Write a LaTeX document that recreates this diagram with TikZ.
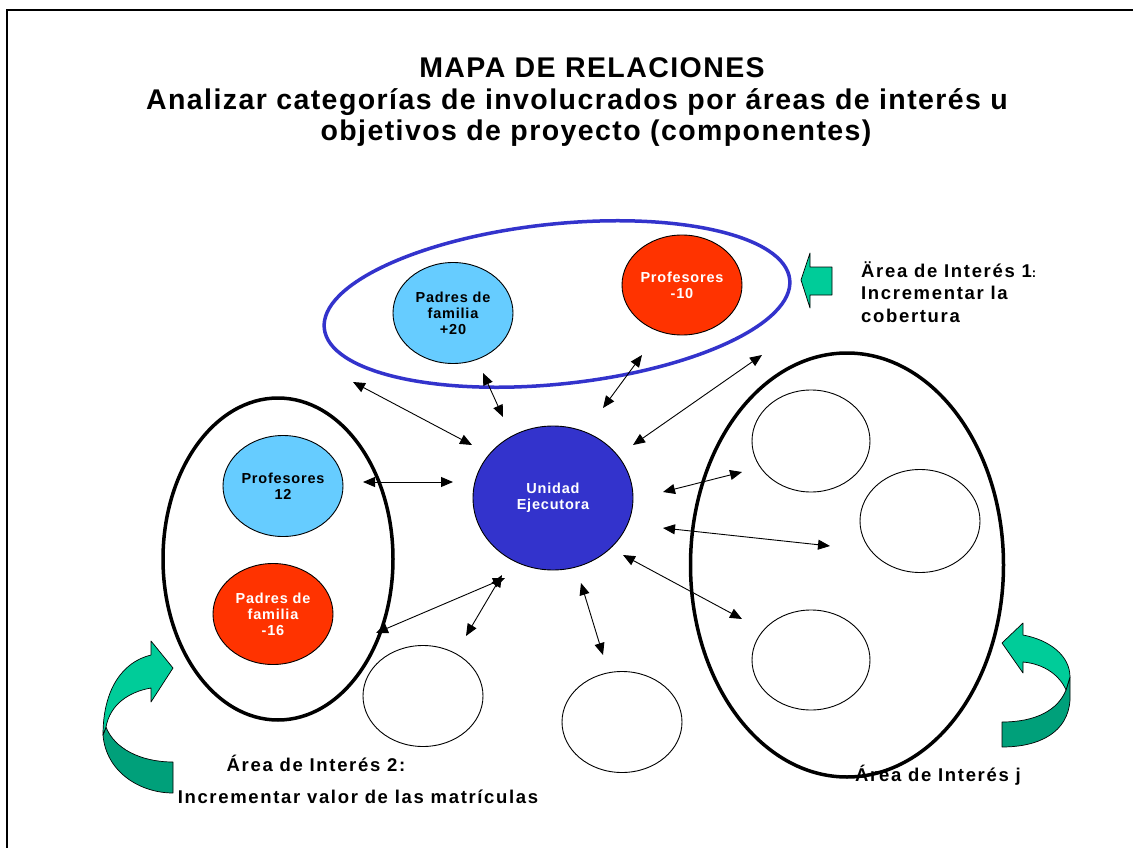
\documentclass[tikz,border=0pt]{standalone}
\usepackage{fontspec}
\setmainfont{Liberation Sans}
\usetikzlibrary{shapes.geometric,arrows.meta}
\definecolor{lblue}{HTML}{66CCFF}
\definecolor{hred}{HTML}{FF3300}
\definecolor{dblue}{HTML}{3333CC}
\definecolor{lgreen}{HTML}{00CC99}
\definecolor{dgreen}{HTML}{00A07A}
\tikzset{
  bub/.style={ellipse, draw=black, line width=0.9pt, inner sep=0pt, minimum width=120pt, minimum height=101pt, align=center, font=\bfseries\fontsize{14.5}{16}\selectfont\addfontfeature{LetterSpace=5.5}},
  big/.style={ellipse, draw=black, line width=3.5pt, inner sep=0pt},
  dbl/.style={{Triangle[length=12pt,width=10pt]}-{Triangle[length=12pt,width=10pt]}, line width=0.9pt},
  lbl/.style={font=\bfseries\fontsize{18.5}{22.5}\selectfont\addfontfeature{LetterSpace=9}, inner sep=0pt},
  ttl/.style={font=\bfseries\fontsize{28.5}{34}\selectfont\addfontfeature{LetterSpace=5}, inner sep=0pt},
  ribbon/.style={draw=black, line width=0.7pt, line join=round}
}
\begin{document}
\begin{tikzpicture}[x=1pt,y=-1pt]
\useasboundingbox (0,0) rectangle (1133,848);
\fill[white] (0,0) rectangle (1133,848);
% frame
\draw[line width=2.5pt] (7,848) -- (7,10) -- (1133,10);
% title
\node[ttl] (t1) at (592,68) {MAPA DE RELACIONES};
\node[ttl] (t2) at (577,102) {Analizar categorías de involucrados por áreas de interés u};
\node[ttl] (t3) at (596,133) {objetivos de proyecto (componentes)};
% big outline ellipses
\node[ellipse, draw=dblue, line width=3.5pt, minimum width=468pt, minimum height=160pt, rotate=6, inner sep=0pt] (area1) at (557,304) {};
\node[big, minimum width=230pt, minimum height=322pt] (area2) at (278,559) {};
\node[big, minimum width=313pt, minimum height=424pt] (areaj) at (847,565) {};
% bubbles
\node[bub, fill=lblue, text=black] (pf20) at (453,313) {Padres de\\familia\\+20};
\node[bub, fill=hred, text=white, minimum height=100pt] (pr10) at (682,285) {Profesores\\-10};
\node[bub, fill=lblue, text=black, minimum height=101pt] (pr12) at (283,486) {Profesores\\12};
\node[bub, fill=hred, text=white] (pf16) at (273,614) {Padres de\\familia\\-16};
\node[bub, fill=dblue, text=white, minimum width=160pt, minimum height=144pt] (ue) at (553,498) {Unidad\\Ejecutora};
\node[bub, fill=white, minimum width=118pt, minimum height=102pt] (r1) at (811,441) {};
\node[bub, fill=white, minimum width=120pt, minimum height=103pt] (r2) at (920,521) {};
\node[bub, fill=white, minimum width=118pt, minimum height=100pt] (r3) at (811,660) {};
\node[bub, fill=white] (b1) at (423,696) {};
\node[bub, fill=white] (b2) at (622,722) {};
% arrow end coordinates
\coordinate (a1s) at (353,382); \coordinate (a1e) at (472,445);
\coordinate (a2s) at (483,373); \coordinate (a2e) at (503,417);
\coordinate (a3s) at (642,355); \coordinate (a3e) at (603,408);
\coordinate (a4s) at (762,355); \coordinate (a4e) at (633,445);
\coordinate (a5s) at (363,482); \coordinate (a5e) at (453,482);
\coordinate (a6s) at (663,492); \coordinate (a6e) at (742,472);
\coordinate (a7s) at (663,528); \coordinate (a7e) at (830,546);
\coordinate (a8s) at (623,555); \coordinate (a8e) at (742,619);
\coordinate (a9s) at (581,583); \coordinate (a9e) at (603,655);
\coordinate (a10s) at (502,575); \coordinate (a10e) at (466,636);
\coordinate (a11s) at (505,578); \coordinate (a11e) at (376,633);
\foreach \i in {1,...,11} {\draw[dbl] (a\i s) -- (a\i e);}
% green block arrow (area 1)
\path[fill=lgreen, ribbon] (801,280) -- (810,253) -- (810,267) -- (832,267) -- (832,295) -- (810,295) -- (810,308) -- cycle;
% left ribbon arrow
\path[fill=dgreen, ribbon] (103,735) .. controls (106,772) and (140,793) .. (173,793) -- (173,762) .. controls (140,762) and (114,748) .. (106,727) -- cycle;
\path[fill=lgreen, ribbon] (151,655) .. controls (122,662) and (103,690) .. (103,735) -- (106,727) .. controls (110,705) and (128,692) .. (151,688) -- (151,702) -- (173,668) -- (151,641) -- cycle;
% right ribbon arrow
\path[fill=dgreen, ribbon] (1070,677) -- (1070,700) .. controls (1068,732) and (1040,747) .. (1002,747) -- (1002,722) .. controls (1036,722) and (1058,710) .. (1066,690) -- cycle;
\path[fill=lgreen, ribbon] (1023,635) .. controls (1050,640) and (1070,656) .. (1070,677) -- (1066,690) .. controls (1060,676) and (1045,664) .. (1023,662) -- (1023,673) -- (1002,643) -- (1023,623) -- cycle;
% labels
\node[lbl, anchor=west, align=left] (l1) at (861,292) {Ärea de Interés 1\fontsize{13}{22.5}\selectfont:\\Incrementar la\\cobertura};
\node[lbl] (l2) at (316,763) {Área de Interés 2:};
\node[lbl] (l3) at (358,797) {Incrementar valor de las matrículas};
\node[lbl] (lj) at (938,775) {Área de Interés j};
\end{tikzpicture}
\end{document}
